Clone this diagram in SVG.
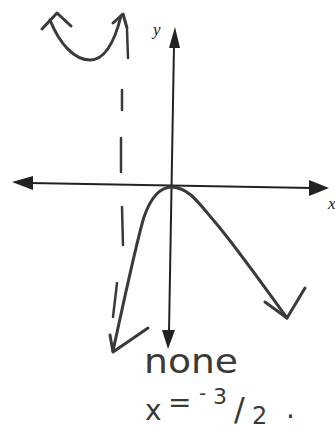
<svg xmlns="http://www.w3.org/2000/svg" width="335" height="430" viewBox="0 0 335 430">
<style>
.ax{stroke:#222;stroke-width:2;fill:none}
.ah{fill:#222;stroke:none}
.hw{stroke:#3a3a36;stroke-width:3;fill:none;stroke-linecap:round;stroke-linejoin:round}
.dash{stroke:#3a3a36;stroke-width:2.5;fill:none;stroke-linecap:round}
.lbl{font-family:"Liberation Serif",serif;font-style:italic;font-size:17px;fill:#222}
.hand{font-family:"DejaVu Sans",sans-serif;fill:#3a3a36}
</style>
<rect width="335" height="430" fill="#fff"/>
<g id="axes">
<line class="ax" x1="30" y1="183" x2="312" y2="188"/>
<polygon class="ah" points="12,182 33,176 33,190"/>
<polygon class="ah" points="329,188 309,180 309,196"/>
<line class="ax" x1="174" y1="45" x2="169" y2="332"/>
<polygon class="ah" points="175,27 169,48 180,48"/>
<polygon class="ah" points="168,349 162,330 175,330"/>
<text class="lbl" x="153" y="35">y</text>
<text class="lbl" x="328" y="209">x</text>
</g>
<g id="sketch-parabola">
<path class="hw" d="M50,20 C60,45 75,60 90,60 C105,60 115,40 121,16"/>
<path class="hw" d="M42,29 L57,13 L71,26"/>
<path class="hw" d="M113,23 L123,14 L127,28"/>
</g>
<g id="asymptote">
<path class="dash" d="M127,30 L128,58 M122,90 L122,110 M121,138 L121,172 M122,207 L123,245 M117,283 L113,317"/>
</g>
<g id="graph">
<path class="hw" d="M113,351 C124,300 137,240 144,217 C151,197 160,187 172,187 C190,188 200,205 215,222 C240,252 265,288 287,318"/>
<path class="hw" d="M110,335 L113,352 L148,328"/>
<path class="hw" d="M265,302 L287,318 L305,288"/>
</g>
<g id="answers">
<text class="hand" x="144" y="373" font-size="33" textLength="94" lengthAdjust="spacingAndGlyphs">none</text>
<text class="hand" font-size="28"><tspan x="145" y="420">x</tspan><tspan x="168" y="412">=</tspan><tspan x="199" y="400" font-size="20">-</tspan><tspan x="213" y="404" font-size="22">3</tspan><tspan x="234" y="420" font-size="32">/</tspan><tspan x="252" y="424" font-size="24">2</tspan><tspan x="286" y="418">.</tspan></text>
</g>
</svg>
